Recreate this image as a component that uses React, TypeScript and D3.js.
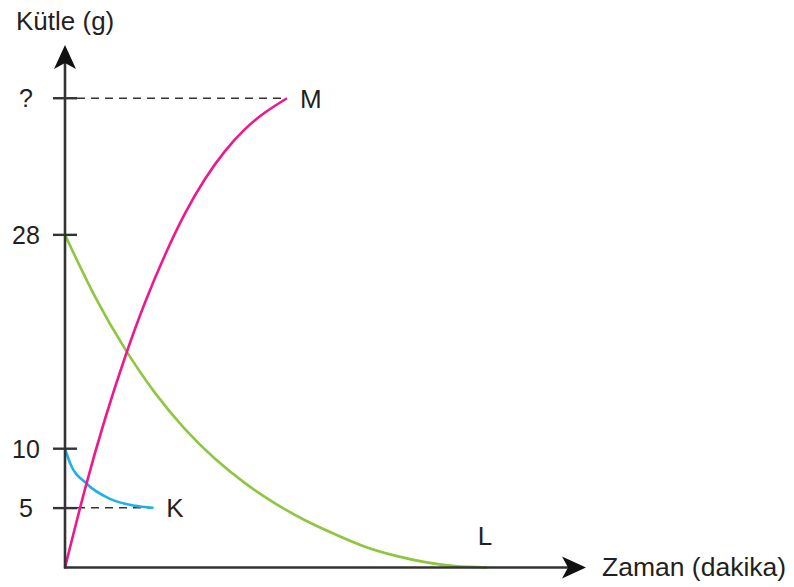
import React from "react";
import * as d3 from "d3";

// Data (x in arbitrary time units, y in grams)
const mTimes = [0, 2, 4, 6, 8, 10, 12, 14, 16, 18, 20, 22.2];
const mMass = [0, 6.6, 12.5, 17.7, 22.3, 26.3, 29.8, 32.7, 35.05, 36.9, 38.3, 39.5];
const lTimes = [0, 3, 6, 9, 12, 15, 18, 21, 24, 27, 30, 33, 36, 39, 42.2];
const lMass = [28, 22.8, 18.4, 14.7, 11.65, 9.15, 7.1, 5.4, 3.98, 2.8, 1.75, 1.0, 0.45, 0.12, 0];
const kTimes = [0, 0.5, 2.17, 4.5, 6.83, 8.83];
const kMass = [10, 8.8, 7.05, 5.78, 5.22, 5.03];
const yTickValues = [5, 10, 28, 39.5];
const yTickLabels = ["5", "10", "28", "?"];
const seriesNames = ["K", "L", "M"];

const W = 794;
const H = 587;
const FONT = "'Liberation Sans', Arial, Helvetica, sans-serif";
const AX = "#333333";
const TXT = "#231f20";

const zip = (a: number[], b: number[]): [number, number][] => a.map((v, i) => [v, b[i]]);

export default function App() {
  const x = d3.scaleLinear().domain([0, 52]).range([65, 585]);
  const y = d3.scaleLinear().domain([0, 40]).range([567.5, 92.3]);
  const line = d3
    .line<[number, number]>()
    .x((d) => x(d[0]))
    .y((d) => y(d[1]))
    .curve(d3.curveNatural);
  const lineK = d3
    .line<[number, number]>()
    .x((d) => x(d[0]))
    .y((d) => y(d[1]))
    .curve(d3.curveMonotoneX);

  const mPoints = zip(mTimes, mMass);
  const lPoints = zip(lTimes, lMass);
  const kPoints = zip(kTimes, kMass);

  const x0 = x(0);
  const y0 = y(0);
  const mEnd = mPoints[mPoints.length - 1];
  const kEnd = kPoints[kPoints.length - 1];
  const lEnd = lPoints[lPoints.length - 1];

  return (
    <svg
      width={W}
      height={H}
      style={{ position: "absolute", left: 0, top: 0, background: "#fff" }}
      fontFamily={FONT}
    >
      {/* dashed guides */}
      <line x1={x0 + 12} x2={x(mEnd[0])} y1={y(mEnd[1])} y2={y(mEnd[1])}
        stroke={AX} strokeWidth={1.6} strokeDasharray="8 6" />
      <line x1={x0 + 12} x2={x(kEnd[0])} y1={y(kEnd[1])} y2={y(kEnd[1])}
        stroke={AX} strokeWidth={1.6} strokeDasharray="8 6" />

      {/* curves */}
      <path d={line(lPoints) || ""} fill="none" stroke="#8dc63f" strokeWidth={2.6} />
      <path d={lineK(kPoints) || ""} fill="none" stroke="#1fb0e8" strokeWidth={2.6} />
      <path d={line(mPoints) || ""} fill="none" stroke="#ec1a8c" strokeWidth={2.6} />

      {/* axes */}
      <line x1={x0} x2={x0} y1={y0 + 1} y2={62} stroke={AX} strokeWidth={2.6} />
      <line x1={x0 - 1} x2={570} y1={y0} y2={y0} stroke={AX} strokeWidth={2.6} />
      <path d={`M${x0},45 L${x0 + 11},69 L${x0},63 L${x0 - 11},69 Z`} fill="#111" />
      <path d={`M586,${y0} L562,${y0 - 11} L568,${y0} L562,${y0 + 11} Z`} fill="#111" />

      {/* y ticks */}
      {yTickValues.map((v, i) => (
        <g key={v}>
          <line x1={x0 - 12} x2={x0 + 12} y1={y(v)} y2={y(v)} stroke={AX} strokeWidth={2.4} />
          <text x={26} y={y(v)} dy="0.36em" textAnchor="middle" fontSize={25} fill={TXT}>
            {yTickLabels[i]}
          </text>
        </g>
      ))}

      {/* axis titles */}
      <text x={16} y={30} fontSize={26} fill={TXT}>Kütle (g)</text>
      <text x={602} y={576} fontSize={26.5} fill={TXT}>Zaman (dakika)</text>

      {/* series labels */}
      <text x={x(mEnd[0]) + 13} y={y(mEnd[1])} dy="0.36em" fontSize={26} fill={TXT}>{seriesNames[2]}</text>
      <text x={x(kEnd[0]) + 13} y={y(kEnd[1])} dy="0.36em" fontSize={26} fill={TXT}>{seriesNames[0]}</text>
      <text x={x(lEnd[0]) - 2} y={y0 - 32} dy="0.36em" textAnchor="middle" fontSize={26} fill={TXT}>{seriesNames[1]}</text>
    </svg>
  );
}
